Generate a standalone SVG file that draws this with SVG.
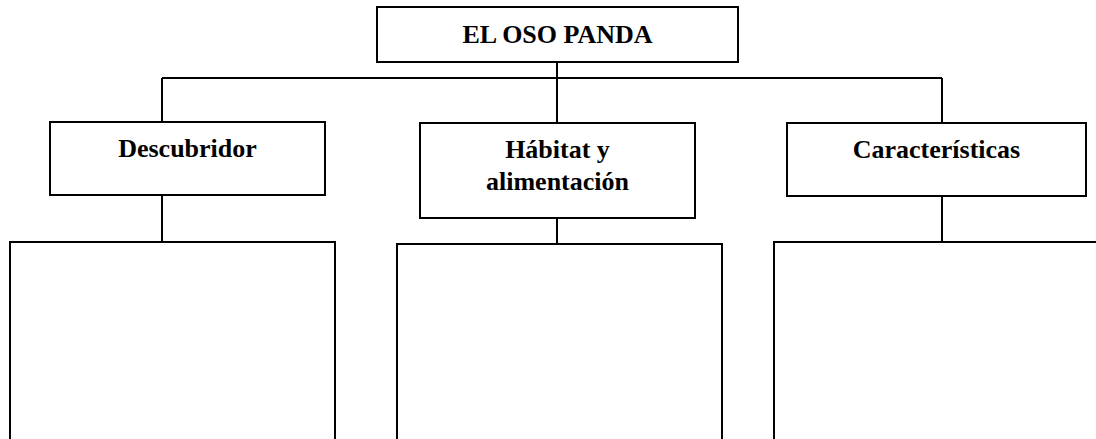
<svg xmlns="http://www.w3.org/2000/svg" width="1096" height="439" viewBox="0 0 1096 439">
<style>
.box{fill:#fff;stroke:#000;stroke-width:2}
.lbl{font-family:"Liberation Serif","Times New Roman",serif;font-weight:bold;font-size:26px;fill:#000;text-anchor:middle}
.conn{fill:none;stroke:#000;stroke-width:2}
</style>
<rect width="1096" height="439" fill="#fff"/>
<g id="connectors">
<path class="conn" d="M557,62 V78 M162,78 H942 M162,78 V122 M557,78 V123 M942,78 V123 M162,195 V242 M557,218 V244 M942,196 V242"/>
</g>
<g id="root">
<rect class="box" x="377" y="7" width="361" height="55"/>
<text class="lbl" x="557.5" y="43">EL OSO PANDA</text>
</g>
<g id="descubridor">
<rect class="box" x="50" y="122" width="275" height="73"/>
<text class="lbl" x="187.5" y="157">Descubridor</text>
</g>
<g id="habitat">
<rect class="box" x="420" y="123" width="275" height="95"/>
<text class="lbl" x="557.5" y="158">Hábitat y</text>
<text class="lbl" x="557.5" y="190">alimentación</text>
</g>
<g id="caracteristicas">
<rect class="box" x="787" y="123" width="299" height="73"/>
<text class="lbl" x="936.5" y="158">Características</text>
</g>
<g id="answer-descubridor">
<rect class="box" x="10" y="242" width="325" height="230"/>
</g>
<g id="answer-habitat">
<rect class="box" x="397" y="244" width="325" height="230"/>
</g>
<g id="answer-caracteristicas">
<rect class="box" x="774" y="242" width="340" height="230"/>
</g>
</svg>
